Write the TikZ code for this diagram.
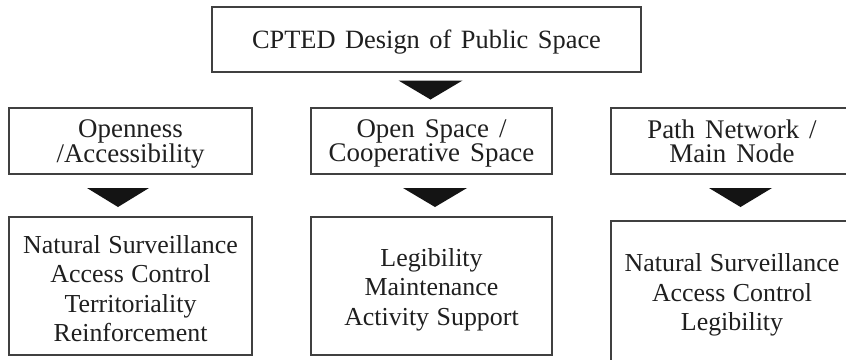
\documentclass[tikz,border=0pt]{standalone}
\usepackage{fontspec}
\setmainfont{Liberation Serif}
\usetikzlibrary{calc}
\newcommand{\topfnt}{\fontsize{26.5}{30}\selectfont\spaceskip=9.5bp plus 2bp\relax}
\newcommand{\upfnt}{\fontsize{27}{24.5}\selectfont\spaceskip=10bp plus 2bp\relax}
\newcommand{\lowfnt}{\fontsize{26}{29.5}\selectfont\spaceskip=7.5bp plus 2bp\relax}
\begin{document}
\begin{tikzpicture}[x=1bp,y=-1bp,
  box/.style={draw=black!75, line width=1.3bp, inner sep=0pt},
  txt/.style={align=center, inner sep=0pt, text=black!88},
  uplabel/.style={txt, font=\upfnt},
  lowlabel/.style={txt, font=\lowfnt},
  tri/.style={fill=black!92}]
\useasboundingbox (0,0) rectangle (846,359);
\clip (0,0) rectangle (846,359);
\fill[white] (0,0) rectangle (846,359);
% top
\node[box, minimum width=429bp, minimum height=65bp] (top) at (426.5,39.5) {};
\node[txt, font=\topfnt] (ttop) at ($(top.center)+(0,3)$) {CPTED Design of Public Space};
% middle row
\node[box, minimum width=243bp, minimum height=66bp] (m1) at (130.5,141) {};
\node[box, minimum width=241bp, minimum height=66bp] (m2) at (431.5,141) {};
\node[box, minimum width=242bp, minimum height=66bp] (m3) at (732,141) {};
\node[uplabel] (tm1) at ($(m1.center)+(0,3)$) {Openness\\/Accessibility};
\node[uplabel] (tm2) at ($(m2.center)+(0,2.5)$) {Open Space /\\Cooperative Space};
\node[uplabel] (tm3) at ($(m3.center)+(0,0.5)$) {Path Network /\\Main Node};
% bottom row
\node[box, minimum width=243bp, minimum height=138bp] (b1) at (130.5,286) {};
\node[box, minimum width=241bp, minimum height=138bp] (b2) at (431.5,286) {};
\node[box, minimum width=242bp, minimum height=147bp] (b3) at (732,294.5) {};
\node[lowlabel] (tb1) at ($(b1.center)+(0,2.5)$) {Natural Surveillance\\Access Control\\Territoriality\\Reinforcement};
\node[lowlabel] (tb2) at ($(b2.center)+(0,3.5)$) {Legibility\\Maintenance\\Activity Support};
\node[lowlabel] (tb3) at ($(b3.center)+(0,0.5)$) {Natural Surveillance\\Access Control\\Legibility};
% arrow triangles between boxes
\coordinate (a0) at ($(top.south)!0.5!(m2.north)+(1.5,0)$);
\coordinate (a1) at ($(m1.south)!0.5!(b1.north)+(-12.5,2)$);
\coordinate (a2) at ($(m2.south)!0.5!(b2.north)+(3.5,2)$);
\coordinate (a3) at ($(m3.south)!0.5!(b3.north)+(8.5,0)$);
\foreach \c/\w in {a0/32,a1/31,a2/32,a3/31.5}{
  \fill[tri] ($(\c)+(-\w,-9.5)$) -- ($(\c)+(\w,-9.5)$) -- ($(\c)+(0,9.5)$) -- cycle;
}
\end{tikzpicture}
\end{document}
